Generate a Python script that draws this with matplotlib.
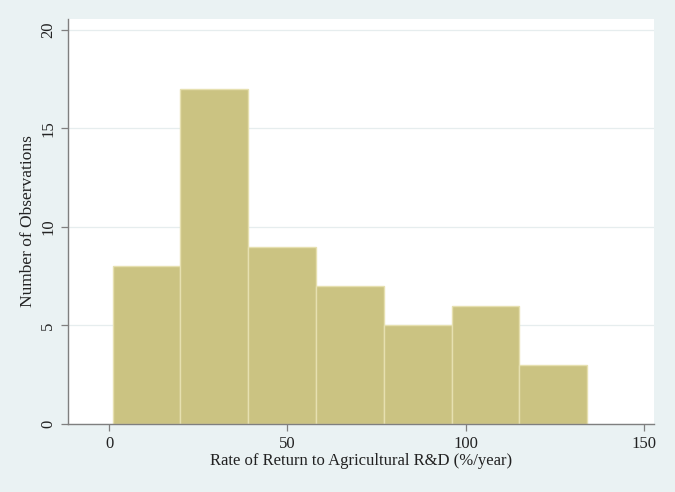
## plot.py
# histogram of rates of return to agricultural R&D (Stata-like look)

import matplotlib
matplotlib.use('Agg')
import matplotlib.pyplot as plt

## data
bin_start = 1.0
bin_width = 19.0
counts    = [8, 17, 9, 7, 5, 6, 3]

x_ticks = [0, 50, 100, 150]
y_ticks = [0, 5, 10, 15, 20]

x_label = 'Rate of Return to Agricultural R&D (%/year)'
y_label = 'Number of Observations'

## style
BG_COLOR   = '#EAF2F3'
BAR_COLOR  = '#CBC382'
EDGE_COLOR = '#E6E0B0'
GRID_COLOR = '#E6EDEE'
AXIS_COLOR = '#7F7F7F'

plt.rcParams['font.family'] = ['Liberation Serif', 'DejaVu Serif']

fig = plt.figure(figsize=(6.75, 4.92), dpi=100)
fig.patch.set_facecolor(BG_COLOR)
ax = fig.add_axes([68/675, 1 - 424/492, (654-68)/675, (424-19)/492])
ax.set_facecolor('white')

edges = [bin_start + i*bin_width for i in range(len(counts))]
ax.bar(edges, counts, width=bin_width, align='edge',
       color=BAR_COLOR, edgecolor=EDGE_COLOR, linewidth=1.0, zorder=2)

ax.set_xlim(-11.5, 152.7)
ax.set_ylim(0, 20.55)
ax.set_xticks(x_ticks)
ax.set_yticks(y_ticks)
ax.set_yticklabels([str(v) for v in y_ticks], rotation=90, va='center')

ax.grid(True, axis='y', color=GRID_COLOR, linewidth=0.9, zorder=0)
ax.set_axisbelow(True)

for s in ['top', 'right']:
    ax.spines[s].set_visible(False)
for s in ['left', 'bottom']:
    ax.spines[s].set_color(AXIS_COLOR)
    ax.spines[s].set_linewidth(1.0)

ax.tick_params(colors='#222222', labelsize=12, length=5, width=0.9,
               direction='out')
ax.tick_params(axis='both', color=AXIS_COLOR)

ax.set_xlabel(x_label, fontsize=12, labelpad=1, color='#222222')
ax.set_ylabel(y_label, fontsize=12.5, labelpad=3, color='#222222')

fig.savefig('out.png', dpi=100, facecolor=BG_COLOR)
